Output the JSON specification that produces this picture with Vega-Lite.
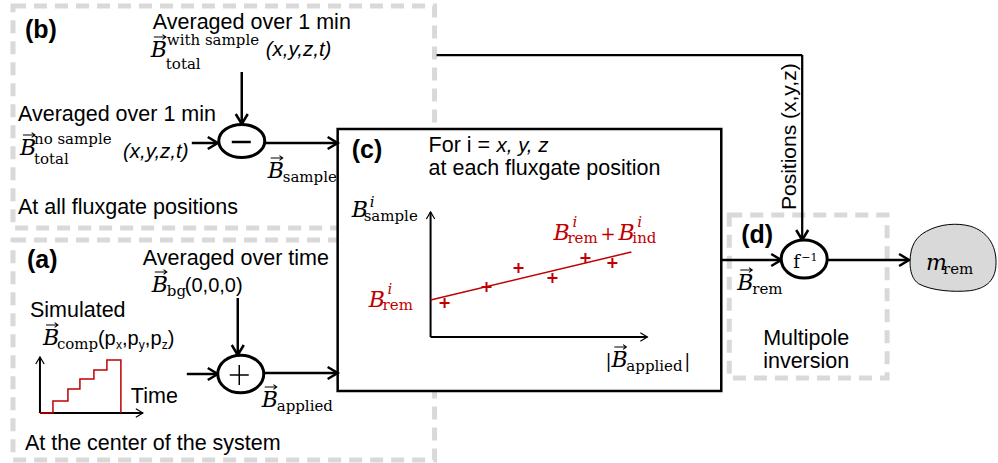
{
  "$schema": "https://vega.github.io/schema/vega-lite/v6.json",
  "width": 998,
  "height": 463,
  "autosize": {"type": "fit", "contains": "padding"},
  "padding": 0,
  "background": "white",
  "config": {"view": {"stroke": null}},
  "resolve": {"scale": {"shape": "independent", "size": "independent", "strokeWidth": "independent", "color": "independent"}},
  "encoding": {
    "x": {"field": "x", "type": "quantitative", "scale": {"domain": [0, 998], "nice": false, "zero": false}, "axis": null},
    "y": {"field": "y", "type": "quantitative", "scale": {"domain": [0, 463], "nice": false, "zero": false, "reverse": true}, "axis": null}
  },
  "layer": [
    {
      "data": {"values": [
        {"box": "b", "x": 13, "y": 6, "x2": 435, "y2": 228},
        {"box": "a", "x": 13, "y": 240, "x2": 435, "y2": 460},
        {"box": "d", "x": 730, "y": 215, "x2": 888, "y2": 378}
      ]},
      "mark": {"type": "rect", "fill": "transparent", "stroke": "#d9d9d9", "strokeWidth": 5, "strokeDash": [13, 8]},
      "encoding": {"x2": {"field": "x2"}, "y2": {"field": "y2"}}
    },
    {
      "data": {"values": [{"box": "c", "x": 338, "y": 129, "x2": 722, "y2": 391}]},
      "mark": {"type": "rect", "fill": "white", "stroke": "black", "strokeWidth": 2.5},
      "encoding": {"x2": {"field": "x2"}, "y2": {"field": "y2"}}
    },
    {
      "data": {"values": [
        {"x": 242, "y": 72, "x2": 242, "y2": 123, "k": "thick"},
        {"x": 192, "y": 143, "x2": 217, "y2": 143, "k": "thick"},
        {"x": 265, "y": 143, "x2": 337, "y2": 143, "k": "thick"},
        {"x": 238, "y": 298, "x2": 238, "y2": 354, "k": "thick"},
        {"x": 187, "y": 374, "x2": 217, "y2": 374, "k": "thick"},
        {"x": 263, "y": 373, "x2": 337, "y2": 373, "k": "thick"},
        {"x": 722, "y": 260, "x2": 781, "y2": 260, "k": "thick"},
        {"x": 828, "y": 260, "x2": 909, "y2": 260, "k": "thick"},
        {"x": 437, "y": 55, "x2": 803, "y2": 55, "k": "mid"},
        {"x": 803, "y": 55, "x2": 803, "y2": 239, "k": "mid"},
        {"x": 431, "y": 212, "x2": 431, "y2": 337, "k": "thin"},
        {"x": 431, "y": 337, "x2": 648, "y2": 337, "k": "thin"},
        {"x": 40, "y": 357, "x2": 40, "y2": 413, "k": "thin"},
        {"x": 40, "y": 413, "x2": 143, "y2": 413, "k": "thin"}
      ]},
      "mark": {"type": "rule", "color": "black"},
      "encoding": {
        "x2": {"field": "x2"}, "y2": {"field": "y2"},
        "strokeWidth": {"field": "k", "type": "nominal", "scale": {"domain": ["thick", "mid", "thin"], "range": [2.5, 2, 1.2]}, "legend": null}
      }
    },
    {
      "data": {"values": [
        {"x": 242, "y": 124, "d": "down", "k": "thick"},
        {"x": 218, "y": 143, "d": "right", "k": "thick"},
        {"x": 338, "y": 143, "d": "right", "k": "thick"},
        {"x": 803, "y": 240, "d": "down", "k": "thick"},
        {"x": 238, "y": 355, "d": "down", "k": "thick"},
        {"x": 218, "y": 374, "d": "right", "k": "thick"},
        {"x": 338, "y": 373, "d": "right", "k": "thick"},
        {"x": 782, "y": 260, "d": "right", "k": "thick"},
        {"x": 910, "y": 260, "d": "right", "k": "thick"},
        {"x": 431, "y": 212, "d": "up", "k": "thin"},
        {"x": 648, "y": 337, "d": "right", "k": "thin"},
        {"x": 40, "y": 357, "d": "up", "k": "thin"},
        {"x": 143, "y": 413, "d": "right", "k": "thin"}
      ]},
      "mark": {"type": "point", "filled": false, "color": "black", "opacity": 1, "strokeJoin": "miter"},
      "encoding": {
        "shape": {"field": "d", "type": "nominal", "scale": {"domain": ["right", "down", "up"], "range": ["M -1 -0.6 L 0 0 L -1 0.6", "M -0.6 -1 L 0 0 L 0.6 -1", "M -0.6 1 L 0 0 L 0.6 1"]}, "legend": null},
        "size": {"field": "k", "type": "nominal", "scale": {"domain": ["thick", "thin"], "range": [400, 196]}, "legend": null},
        "strokeWidth": {"field": "k", "type": "nominal", "scale": {"domain": ["thick", "thin"], "range": [2.5, 1.2]}, "legend": null}
      }
    },
    {
      "data": {"values": [
        {"x": 242, "y": 141, "id": "minus"},
        {"x": 241, "y": 374, "id": "plus"},
        {"x": 805, "y": 259, "id": "f"}
      ]},
      "mark": {"type": "point", "filled": false, "fill": "white", "fillOpacity": 1, "stroke": "black", "strokeWidth": 3, "opacity": 1, "size": 2116},
      "encoding": {
        "shape": {"field": "id", "type": "nominal", "scale": {"domain": ["minus", "plus", "f"], "range": [
          "M -1 0 C -1 -0.398 -0.552 -0.72 0 -0.72 C 0.552 -0.72 1 -0.398 1 0 C 1 0.398 0.552 0.72 0 0.72 C -0.552 0.72 -1 0.398 -1 0 Z",
          "M -1 0 C -1 -0.453 -0.552 -0.82 0 -0.82 C 0.552 -0.82 1 -0.453 1 0 C 1 0.453 0.552 0.82 0 0.82 C -0.552 0.82 -1 0.453 -1 0 Z",
          "M -1 0 C -1 -0.458 -0.552 -0.83 0 -0.83 C 0.552 -0.83 1 -0.458 1 0 C 1 0.458 0.552 0.83 0 0.83 C -0.552 0.83 -1 0.458 -1 0 Z"]}, "legend": null}
      }
    },
    {
      "data": {"values": [
        {"x": 232, "y": 142, "x2": 251, "y2": 142, "k": "minus"},
        {"x": 230, "y": 375, "x2": 249, "y2": 375, "k": "plus"},
        {"x": 239.5, "y": 365, "x2": 239.5, "y2": 385, "k": "plus"}
      ]},
      "mark": {"type": "rule", "color": "black"},
      "encoding": {
        "x2": {"field": "x2"}, "y2": {"field": "y2"},
        "strokeWidth": {"field": "k", "type": "nominal", "scale": {"domain": ["minus", "plus"], "range": [2.5, 1.5]}, "legend": null}
      }
    },
    {
      "data": {"values": [{"x": 954, "y": 258, "name": "m_rem"}]},
      "mark": {"type": "point", "filled": true, "fill": "#d9d9d9", "fillOpacity": 1, "stroke": "black", "strokeWidth": 1, "opacity": 1, "size": 7396,
        "shape": "M -1 0.1 C -1 -0.3 -0.85 -0.5 -0.62 -0.62 C -0.3 -0.8 0.1 -0.82 0.4 -0.74 C 0.8 -0.62 1 -0.3 1 0.1 C 1 0.5 0.8 0.7 0.4 0.76 C 0 0.8 -0.5 0.76 -0.8 0.6 C -0.95 0.5 -1 0.3 -1 0.1 Z"},
      "encoding": {}
    },
    {
      "data": {"values": [
        {"x": 40, "y": 413, "o": 0}, {"x": 53, "y": 413, "o": 1}, {"x": 53, "y": 401, "o": 2},
        {"x": 68, "y": 401, "o": 3}, {"x": 68, "y": 389, "o": 4}, {"x": 80, "y": 389, "o": 5},
        {"x": 80, "y": 379, "o": 6}, {"x": 94, "y": 379, "o": 7}, {"x": 94, "y": 370, "o": 8},
        {"x": 107, "y": 370, "o": 9}, {"x": 107, "y": 360, "o": 10}, {"x": 121, "y": 360, "o": 11},
        {"x": 121, "y": 413, "o": 12}
      ]},
      "mark": {"type": "line", "color": "#c00000", "strokeWidth": 1.5},
      "encoding": {"order": {"field": "o", "type": "quantitative"}}
    },
    {
      "data": {"values": [{"x": 431, "y": 300, "x2": 632, "y2": 252}]},
      "mark": {"type": "rule", "color": "#c00000", "strokeWidth": 1.5},
      "encoding": {"x2": {"field": "x2"}, "y2": {"field": "y2"}}
    },
    {
      "data": {"values": [
        {"x": 445, "y": 303}, {"x": 487, "y": 287}, {"x": 519, "y": 268},
        {"x": 553, "y": 278}, {"x": 586, "y": 258}, {"x": 613, "y": 263}
      ]},
      "mark": {"type": "point", "filled": false, "color": "#c00000", "strokeWidth": 2, "opacity": 1, "size": 100, "shape": "M -1 0 L 1 0 M 0 -1 L 0 1"},
      "encoding": {}
    },
    {
      "data": {"values": [
        {"x": 160, "y": 37}, {"x": 29, "y": 135}, {"x": 277, "y": 158}, {"x": 161, "y": 272},
        {"x": 52, "y": 325}, {"x": 271, "y": 387}, {"x": 621, "y": 347}, {"x": 747, "y": 270}
      ]},
      "mark": {"type": "point", "filled": false, "color": "black", "strokeWidth": 1.1, "opacity": 1, "size": 144, "shape": "M -1 0 L 1 0 M 0.45 -0.4 L 1 0 L 0.45 0.4"},
      "encoding": {}
    },
    {
      "data": {"values": [
        {"x": 153, "y": 29, "t": "Averaged over 1 min"},
        {"x": 18, "y": 121, "t": "Averaged over 1 min"},
        {"x": 18, "y": 214, "t": "At all fluxgate positions"},
        {"x": 143, "y": 265, "t": "Averaged over time"},
        {"x": 30, "y": 317, "t": "Simulated"},
        {"x": 131, "y": 403, "t": "Time"},
        {"x": 25, "y": 450, "t": "At the center of the system"},
        {"x": 429, "y": 152, "t": "For i ="},
        {"x": 429, "y": 175, "t": "at each fluxgate position"}
      ]},
      "mark": {"type": "text", "align": "left", "baseline": "alphabetic", "font": "Liberation Sans", "fontSize": 21.5, "color": "black"},
      "encoding": {"text": {"field": "t"}}
    },
    {
      "data": {"values": [
        {"x": 185, "y": 292, "t": "(0,0,0)"},
        {"x": 98, "y": 345, "t": "(p"},
        {"x": 122, "y": 345, "t": ",p"},
        {"x": 145, "y": 345, "t": ",p"},
        {"x": 168, "y": 345, "t": ")"}
      ]},
      "mark": {"type": "text", "align": "left", "baseline": "alphabetic", "font": "Liberation Sans", "fontSize": 20, "color": "black"},
      "encoding": {"text": {"field": "t"}}
    },
    {
      "data": {"values": [
        {"x": 807, "y": 345, "t": "Multipole"},
        {"x": 807, "y": 368, "t": "inversion"}
      ]},
      "mark": {"type": "text", "align": "center", "baseline": "alphabetic", "font": "Liberation Sans", "fontSize": 21.5, "color": "black"},
      "encoding": {"text": {"field": "t"}}
    },
    {
      "data": {"values": [
        {"x": 25, "y": 38, "t": "(b)"},
        {"x": 27, "y": 268, "t": "(a)"},
        {"x": 352, "y": 158, "t": "(c)"},
        {"x": 742, "y": 243, "t": "(d)"}
      ]},
      "mark": {"type": "text", "align": "left", "baseline": "alphabetic", "font": "Liberation Sans", "fontSize": 25, "fontWeight": "bold", "color": "black"},
      "encoding": {"text": {"field": "t"}}
    },
    {
      "data": {"values": [
        {"x": 266, "y": 56, "t": "(x,y,z,t)"},
        {"x": 123, "y": 158, "t": "(x,y,z,t)"},
        {"x": 497, "y": 152, "t": "x, y, z"}
      ]},
      "mark": {"type": "text", "align": "left", "baseline": "alphabetic", "font": "Liberation Sans", "fontSize": 20.5, "fontStyle": "italic", "color": "black"},
      "encoding": {"text": {"field": "t"}}
    },
    {
      "data": {"values": [
        {"x": 116, "y": 349, "t": "x"},
        {"x": 139, "y": 349, "t": "y"},
        {"x": 162, "y": 349, "t": "z"}
      ]},
      "mark": {"type": "text", "align": "left", "baseline": "alphabetic", "font": "Liberation Sans", "fontSize": 12, "color": "black"},
      "encoding": {"text": {"field": "t"}}
    },
    {
      "data": {"values": [{"x": 797, "y": 210, "t": "Positions (x,y,z)"}]},
      "mark": {"type": "text", "align": "left", "baseline": "alphabetic", "angle": 270, "font": "Liberation Sans", "fontSize": 21, "color": "black"},
      "encoding": {"text": {"field": "t"}}
    },
    {
      "data": {"values": [
        {"x": 151, "y": 57, "t": "B", "c": "k"},
        {"x": 20, "y": 155, "t": "B", "c": "k"},
        {"x": 268, "y": 178, "t": "B", "c": "k"},
        {"x": 152, "y": 292, "t": "B", "c": "k"},
        {"x": 43, "y": 345, "t": "B", "c": "k"},
        {"x": 262, "y": 407, "t": "B", "c": "k"},
        {"x": 612, "y": 367, "t": "B", "c": "k"},
        {"x": 738, "y": 290, "t": "B", "c": "k"},
        {"x": 352, "y": 217, "t": "B", "c": "k"},
        {"x": 369, "y": 307, "t": "B", "c": "r"},
        {"x": 554, "y": 240, "t": "B", "c": "r"},
        {"x": 619, "y": 240, "t": "B", "c": "r"},
        {"x": 927, "y": 270, "t": "m", "c": "k"}
      ]},
      "mark": {"type": "text", "align": "left", "baseline": "alphabetic", "font": "DejaVu Serif", "fontSize": 22, "fontStyle": "italic"},
      "encoding": {
        "text": {"field": "t"},
        "color": {"field": "c", "type": "nominal", "scale": {"domain": ["k", "r"], "range": ["#000000", "#c00000"]}, "legend": null}
      }
    },
    {
      "data": {"values": [
        {"x": 167, "y": 45, "t": "with sample", "c": "k"},
        {"x": 166, "y": 69, "t": "total", "c": "k"},
        {"x": 34, "y": 144, "t": "no sample", "c": "k"},
        {"x": 34, "y": 164, "t": "total", "c": "k"},
        {"x": 283, "y": 182, "t": "sample", "c": "k"},
        {"x": 167, "y": 296, "t": "bg", "c": "k"},
        {"x": 57, "y": 349, "t": "comp", "c": "k"},
        {"x": 277, "y": 411, "t": "applied", "c": "k"},
        {"x": 364, "y": 221, "t": "sample", "c": "k"},
        {"x": 383, "y": 310, "t": "rem", "c": "r"},
        {"x": 568, "y": 243, "t": "rem", "c": "r"},
        {"x": 633, "y": 243, "t": "ind", "c": "r"},
        {"x": 627, "y": 371, "t": "applied", "c": "k"},
        {"x": 753, "y": 294, "t": "rem", "c": "k"},
        {"x": 944, "y": 274, "t": "rem", "c": "k"}
      ]},
      "mark": {"type": "text", "align": "left", "baseline": "alphabetic", "font": "DejaVu Serif", "fontSize": 15},
      "encoding": {
        "text": {"field": "t"},
        "color": {"field": "c", "type": "nominal", "scale": {"domain": ["k", "r"], "range": ["#000000", "#c00000"]}, "legend": null}
      }
    },
    {
      "data": {"values": [
        {"x": 370, "y": 207, "t": "i", "c": "k"},
        {"x": 388, "y": 294, "t": "i", "c": "r"},
        {"x": 573, "y": 227, "t": "i", "c": "r"},
        {"x": 638, "y": 227, "t": "i", "c": "r"}
      ]},
      "mark": {"type": "text", "align": "left", "baseline": "alphabetic", "font": "DejaVu Serif", "fontSize": 15, "fontStyle": "italic"},
      "encoding": {
        "text": {"field": "t"},
        "color": {"field": "c", "type": "nominal", "scale": {"domain": ["k", "r"], "range": ["#000000", "#c00000"]}, "legend": null}
      }
    },
    {
      "data": {"values": [
        {"x": 601, "y": 240, "t": "+", "c": "r"},
        {"x": 606, "y": 367, "t": "|", "c": "k"},
        {"x": 685, "y": 367, "t": "|", "c": "k"},
        {"x": 794, "y": 268, "t": "f", "c": "k"}
      ]},
      "mark": {"type": "text", "align": "left", "baseline": "alphabetic", "font": "DejaVu Serif", "fontSize": 18},
      "encoding": {
        "text": {"field": "t"},
        "color": {"field": "c", "type": "nominal", "scale": {"domain": ["k", "r"], "range": ["#000000", "#c00000"]}, "legend": null}
      }
    },
    {
      "data": {"values": [{"x": 802, "y": 261, "t": "−1"}]},
      "mark": {"type": "text", "align": "left", "baseline": "alphabetic", "font": "DejaVu Serif", "fontSize": 11, "color": "black"},
      "encoding": {"text": {"field": "t"}}
    }
  ]
}
